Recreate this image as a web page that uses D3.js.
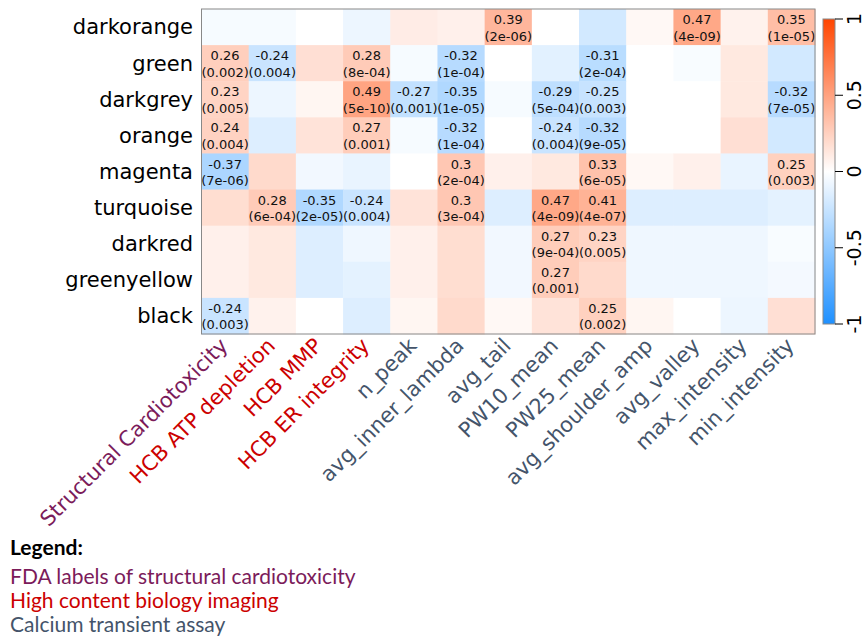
<!DOCTYPE html>
<html>
  <head>
    <meta charset="utf-8">
    <script src="https://d3js.org/d3.v7.min.js"></script>
    <style>
      body { margin: 0; background: #fff; }
      text { font-family: "DejaVu Sans", sans-serif; }
    </style>
  </head>
  <body>
    <svg width="864" height="638"></svg>
    <script>
      // rows (modules) and columns (traits)
      var modules = ["darkorange", "green", "darkgrey", "orange", "magenta",
                     "turquoise", "darkred", "greenyellow", "black"];
      var traits = ["Structural Cardiotoxicity", "HCB ATP depletion", "HCB MMP", "HCB ER integrity",
                    "n_peak", "avg_inner_lambda", "avg_tail", "PW10_mean", "PW25_mean",
                    "avg_shoulder_amp", "avg_valley", "max_intensity", "min_intensity"];
      // 0 = FDA label, 1 = HCB imaging, 2 = calcium transient
      var traitGroup = [0, 1, 1, 1, 2, 2, 2, 2, 2, 2, 2, 2, 2];
      var groupColors = ["#7b1b5a", "#cc0000", "#44546a"];

      // correlations, one array per module (row)
      var corr = [
        [-0.04, -0.04, 0.00, -0.08, 0.10, 0.08, 0.39, 0.00, -0.20, 0.04, 0.47, 0.07, 0.35],
        [0.26, -0.24, 0.17, 0.28, -0.04, -0.32, 0.00, -0.13, -0.31, 0.00, -0.03, 0.12, -0.20],
        [0.23, -0.08, 0.05, 0.49, -0.27, -0.35, -0.04, -0.29, -0.25, 0.00, 0.00, 0.12, -0.32],
        [0.24, -0.15, 0.15, 0.27, -0.04, -0.32, 0.00, -0.24, -0.32, 0.00, 0.00, 0.17, -0.20],
        [-0.37, 0.20, -0.06, -0.10, 0.00, 0.30, 0.08, 0.12, 0.33, 0.04, 0.08, -0.10, 0.25],
        [0.18, 0.28, -0.35, -0.24, 0.15, 0.30, -0.15, 0.47, 0.41, -0.15, -0.15, -0.15, -0.12],
        [0.08, 0.12, -0.15, -0.07, 0.08, 0.18, -0.06, 0.27, 0.23, -0.07, -0.07, -0.07, -0.03],
        [0.08, 0.12, -0.15, -0.12, 0.08, 0.18, -0.06, 0.27, 0.20, -0.07, -0.07, -0.07, -0.05],
        [-0.24, 0.07, 0.00, -0.15, 0.05, 0.20, 0.04, 0.15, 0.25, 0.05, 0.00, -0.08, 0.17]
      ];
      // p-value labels shown in significant cells (null = no label)
      var pval = [
        [null, null, null, null, null, null, "2e-06", null, null, null, "4e-09", null, "1e-05"],
        ["0.002", "0.004", null, "8e-04", null, "1e-04", null, null, "2e-04", null, null, null, null],
        ["0.005", null, null, "5e-10", "0.001", "1e-05", null, "5e-04", "0.003", null, null, null, "7e-05"],
        ["0.004", null, null, "0.001", null, "1e-04", null, "0.004", "9e-05", null, null, null, null],
        ["7e-06", null, null, null, null, "2e-04", null, null, "6e-05", null, null, null, "0.003"],
        [null, "6e-04", "2e-05", "0.004", null, "3e-04", null, "4e-09", "4e-07", null, null, null, null],
        [null, null, null, null, null, null, null, "9e-04", "0.005", null, null, null, null],
        [null, null, null, null, null, null, null, "0.001", null, null, null, null, null],
        ["0.003", null, null, null, null, null, null, null, "0.002", null, null, null, null]
      ];
      var barTicks = [1, 0.5, 0, -0.5, -1];
      var legendTitle = "Legend:";
      var legendItems = ["FDA labels of structural cardiotoxicity",
                         "High content biology imaging",
                         "Calcium transient assay"];

      var svg = d3.select("svg");

      var x = d3.scaleBand().domain(traits).range([201.5, 815]);
      var y = d3.scaleBand().domain(modules).range([9, 334]);
      var color = d3.scaleLinear().domain([-1, 0, 1]).range(["#1e90ff", "#ffffff", "#ff4500"]);

      var cells = [];
      modules.forEach(function(m, i) {
        traits.forEach(function(t, j) {
          cells.push({module: m, trait: t, r: corr[i][j], p: pval[i][j]});
        });
      });

      svg.append("g").selectAll("rect")
          .data(cells)
        .enter().append("rect")
          .attr("x", function(d) { return x(d.trait); })
          .attr("y", function(d) { return y(d.module); })
          .attr("width", x.bandwidth() + 0.5)
          .attr("height", y.bandwidth() + 0.5)
          .attr("fill", function(d) { return color(d.r); });

      var lab = svg.append("g").selectAll("text")
          .data(cells.filter(function(d) { return d.p !== null; }))
        .enter().append("text")
          .attr("text-anchor", "middle")
          .attr("font-size", 13)
          .attr("fill", "#111");
      lab.append("tspan")
          .attr("x", function(d) { return x(d.trait) + x.bandwidth() / 2; })
          .attr("y", function(d) { return y(d.module) + y.bandwidth() / 2 - 3; })
          .text(function(d) { return String(+d.r.toFixed(2)); });
      lab.append("tspan")
          .attr("x", function(d) { return x(d.trait) + x.bandwidth() / 2; })
          .attr("y", function(d) { return y(d.module) + y.bandwidth() / 2 + 13.5; })
          .text(function(d) { return "(" + d.p + ")"; });

      svg.append("rect")
          .attr("x", 201.5).attr("y", 9)
          .attr("width", 815 - 201.5).attr("height", 334 - 9)
          .attr("fill", "none").attr("stroke", "#888").attr("stroke-width", 1);

      // row labels
      svg.append("g").selectAll("text")
          .data(modules)
        .enter().append("text")
          .attr("x", 193)
          .attr("y", function(d) { return y(d) + y.bandwidth() / 2; })
          .attr("dy", "0.35em")
          .attr("text-anchor", "end")
          .attr("font-size", 21)
          .attr("fill", "#000")
          .text(function(d) { return d; });

      // column labels
      svg.append("g").selectAll("text")
          .data(traits)
        .enter().append("text")
          .attr("transform", function(d) {
            return "translate(" + (x(d) + x.bandwidth() / 2 + 4) + ",347) rotate(-45)";
          })
          .attr("text-anchor", "end")
          .attr("font-size", 21)
          .attr("fill", function(d, i) { return groupColors[traitGroup[i]]; })
          .text(function(d) { return d; });

      // colour bar
      var cb = d3.scaleLinear().domain([-1, 1]).range([324, 19]);
      var grad = svg.append("defs").append("linearGradient")
          .attr("id", "cbar").attr("x1", 0).attr("y1", 1).attr("x2", 0).attr("y2", 0);
      grad.selectAll("stop")
          .data(d3.range(-1, 1.01, 0.1))
        .enter().append("stop")
          .attr("offset", function(d) { return (d + 1) / 2; })
          .attr("stop-color", function(d) { return color(d); });
      svg.append("rect")
          .attr("x", 823).attr("y", cb(1))
          .attr("width", 12).attr("height", cb(-1) - cb(1))
          .attr("fill", "url(#cbar)")
          .attr("stroke", "#888").attr("stroke-width", 1);

      var tk = svg.append("g").selectAll("g")
          .data(barTicks)
        .enter().append("g")
          .attr("transform", function(d) { return "translate(835," + cb(d) + ")"; });
      tk.append("line").attr("x1", 0).attr("x2", 8).attr("stroke", "#000");
      tk.append("text")
          .attr("transform", "translate(19,0) rotate(-90)")
          .attr("text-anchor", "middle")
          .attr("dy", "0.35em")
          .attr("font-size", 19)
          .text(function(d) { return d; });

      // legend
      var lg = svg.append("g")
          .style("font-family", "Lato, 'Open Sans', sans-serif")
          .attr("font-size", 21);
      lg.append("text")
          .attr("x", 10).attr("y", 555)
          .attr("font-weight", "bold")
          .style("font-family", "Lato, sans-serif")
          .text(legendTitle);
      lg.selectAll(".item")
          .data(legendItems)
        .enter().append("text")
          .attr("class", "item")
          .attr("x", 10)
          .attr("y", function(d, i) { return 584 + i * 24; })
          .style("font-family", "Lato, sans-serif")
          .attr("fill", function(d, i) { return groupColors[i]; })
          .text(function(d) { return d; });
    </script>
  </body>
</html>
